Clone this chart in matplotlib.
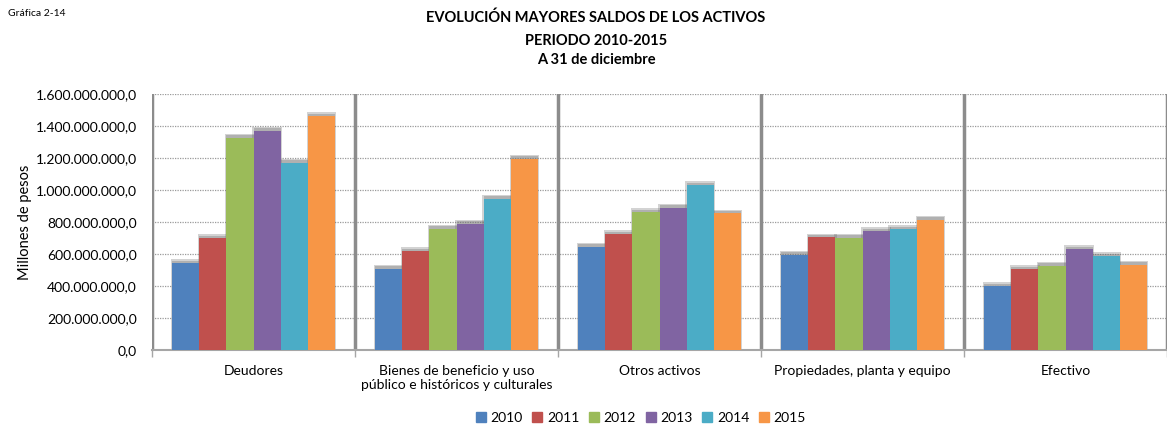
import matplotlib
matplotlib.use("Agg")
import matplotlib.pyplot as plt
import numpy as np
from matplotlib.ticker import FuncFormatter, MultipleLocator

categories = ["Deudores", "Bienes de beneficio y uso\npúblico e históricos y culturales",
              "Otros activos", "Propiedades, planta y equipo", "Efectivo"]
years = ["2010", "2011", "2012", "2013", "2014", "2015"]
v2010 = [545e6, 508e6, 646e6, 596e6, 398e6]
v2011 = [698e6, 619e6, 725e6, 704e6, 506e6]
v2012 = [1327e6, 758e6, 862e6, 702e6, 527e6]
v2013 = [1371e6, 790e6, 890e6, 744e6, 631e6]
v2014 = [1171e6, 946e6, 1031e6, 756e6, 587e6]
v2015 = [1464e6, 1196e6, 854e6, 815e6, 533e6]
series = [v2010, v2011, v2012, v2013, v2014, v2015]
colors = ["#4F81BD", "#C0504D", "#9BBB59", "#8064A2", "#4BACC6", "#F79646"]

plt.rcParams['font.family'] = ['Lato', 'DejaVu Sans']

fig = plt.figure(figsize=(11.67, 4.28), dpi=100)
ax = fig.add_axes([152/1167, 78/428, 1 - 152/1167, 256/428])

n = len(years)
bw = 0.8 / n
x = np.arange(len(categories))
for i, (vals, c) in enumerate(zip(series, colors)):
    pos = x - 0.4 + bw * (i + 0.5)
    # soft shadow
    ax.bar(pos, np.array(vals) + 24e6, width=bw * 1.08, color="#6f6f6f", alpha=0.3,
           zorder=2, linewidth=0)
    ax.bar(pos, np.array(vals) + 14e6, width=bw * 1.0, color="#6f6f6f", alpha=0.35,
           zorder=2, linewidth=0)
    ax.bar(pos, vals, width=bw, color=c, zorder=3, linewidth=0, label=years[i])

ax.set_xlim(-0.5, len(categories) - 0.5)
ax.set_ylim(0, 1.6e9)
ax.yaxis.set_major_locator(MultipleLocator(2e8))
ax.yaxis.set_major_formatter(FuncFormatter(
    lambda v, p: f"{v:,.1f}".replace(",", "X").replace(".", ",").replace("X", ".")))
ax.grid(axis="y", color="#9a9a9a", linestyle=(0, (1, 1)), linewidth=0.9, zorder=0)
ax.set_axisbelow(True)

for b in np.arange(-0.5, len(categories) - 0.5 + 0.01, 1.0):
    ax.axvline(b, color="#8c8c8c", linewidth=2.5, zorder=1)

for s in ["top", "right"]:
    ax.spines[s].set_visible(False)
ax.spines["left"].set_visible(False)
ax.spines["bottom"].set_color("#a6a6a6")
ax.spines["bottom"].set_linewidth(1.5)

ax.set_xticks(np.arange(-0.5, len(categories), 1.0), minor=False)
ax.set_xticklabels([])
ax.tick_params(axis="x", which="major", length=5, color="#a6a6a6", width=1)
ax.set_xticks(x, minor=True)
ax.set_xticklabels(categories, minor=True, fontsize=10)
ax.tick_params(axis="x", which="minor", length=0, pad=11)
ax.tick_params(axis="y", length=0, labelsize=10, pad=11, labelcolor="#000000")

ax.set_ylabel("Millones de pesos", fontsize=10.5, labelpad=6)
ax.yaxis.set_label_coords(-0.118, 0.5)

tx = 596/1167
fig.text(8/1167, 1 - 14/428, "Gráfica 2-14", fontsize=7.5, va="center", ha="left")
fig.text(tx, 1 - 18/428, "EVOLUCIÓN MAYORES SALDOS DE LOS ACTIVOS",
         fontsize=10.5, fontweight="bold", ha="center", va="center")
fig.text(tx, 1 - 41/428, "PERIODO 2010-2015",
         fontsize=10.5, fontweight="bold", ha="center", va="center")
fig.text(tx, 1 - 60/428, "A 31 de diciembre",
         fontsize=10.5, fontweight="bold", ha="center", va="center")

handles = [plt.Rectangle((0, 0), 1, 1, color=c) for c in colors]
fig.legend(handles, years, loc="center", bbox_to_anchor=(641/1167, 1 - 418/428),
           ncol=6, frameon=False, fontsize=10, handlelength=0.7, handleheight=0.7,
           handletextpad=0.35, columnspacing=0.7)

fig.savefig("out.png", dpi=100)
